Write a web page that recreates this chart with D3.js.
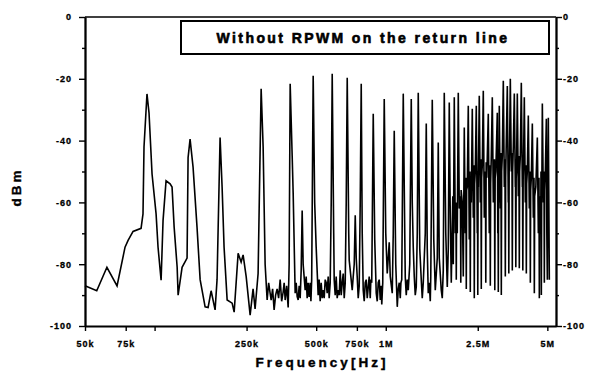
<!DOCTYPE html>
<html lang="en">
  <head>
    <meta charset="UTF-8" />
    <title>Spectrum</title>
    <script src="https://d3js.org/d3.v7.min.js"></script>
    <style>
      body {
        margin: 0;
        background: #fff;
      }
      * {
        font-family: "Liberation Sans", Arial, sans-serif;
      }
      .tick text {
        font-size: 9px;
        font-weight: bold;
        letter-spacing: 1px;
        fill: #000;
        stroke: #000;
        stroke-width: 0.3px;
      }
      .axis path,
      .axis line {
        stroke: #000;
      }
      .axis path {
        stroke-width: 1.8px;
      }
      .axis line {
        stroke-width: 1.4px;
      }
      .trace {
        fill: none;
        stroke: #000;
        stroke-width: 1.6px;
        stroke-linejoin: miter;
      }
      .title {
        font-size: 14px;
        font-weight: bold;
        letter-spacing: 2.4px;
        stroke: #000;
        stroke-width: 0.6px;
      }
      .axis-title {
        font-size: 13.5px;
        font-weight: bold;
        letter-spacing: 3px;
        stroke: #000;
        stroke-width: 0.4px;
      }
    </style>
  </head>
  <body></body>
  <script>
    // spectrum trace: [frequency kHz, level dBm]
    const lowBand = [
      [50.0, -87], [56.2, -88.6], [62.2, -81], [68.8, -87], [74.5, -74.5],
      [76.8, -72.3], [80.7, -69.4], [87.4, -68.4], [89.1, -63.7], [90.0, -42],
      [92.7, -24.9], [94.6, -31], [97.5, -50.8], [101.5, -63.7], [103.5, -74.5],
      [106.7, -85.2], [108.8, -65.8], [112.1, -53], [116.7, -54], [119.0, -55],
      [121.5, -68], [125.2, -81], [126.4, -90], [131.5, -81], [138.2, -78],
      [139.6, -45.5], [142.4, -39.5], [146.7, -48.6], [152.6, -68], [157.4, -85],
      [165.4, -93.8], [170.4, -94], [175.6, -88.6], [182.7, -94.8], [186.3, -85],
      [192.0, -39], [195.9, -55], [199.8, -74.5], [206.0, -91.6], [216.5, -92.6],
      [220.9, -95.5], [229.8, -76.5], [236.8, -79.3], [241.5, -77], [249.0, -84],
      [259.0, -96.5], [266.7, -88], [272.1, -94.5], [280.4, -83], [289.0, -23.2],
      [294.8, -42], [300.7, -80]
    ];

    const midBand = [
      [306.8, -91.6], [311.5, -86], [315.5, -89], [319.3, -91.6], [324.0, -88],
      [328.9, -94.8], [333.8, -90], [338.9, -88], [344.0, -91], [349.3, -85],
      [354.5, -92], [359.9, -89], [363.5, -86], [367.2, -91.6], [372.7, -87],
      [378.3, -94], [382.0, -80], [385.9, -21.6], [393.7, -45], [397.6, -57],
      [405.6, -89.4], [409.7, -86], [413.8, -90.5], [417.9, -91.6], [422.1, -87],
      [426.3, -91], [430.6, -82], [434.9, -62.6], [439.2, -80], [448.1, -88.4],
      [452.6, -84], [457.1, -91], [461.6, -86], [466.2, -90.6], [471.0, -86],
      [474.5, -92], [478.1, -85], [485.3, -19], [492.6, -60], [500.0, -74.5],
      [510.0, -90], [515.1, -85], [520.4, -92], [525.6, -86], [530.9, -91],
      [536.2, -88.4], [541.6, -91], [547.0, -85], [552.5, -86], [558.0, -89.4],
      [563.6, -84], [569.2, -91], [575.0, -86], [580.8, -60], [586.6, -18.4],
      [595.4, -70], [598.3, -85], [604.3, -90], [610.3, -84], [616.4, -91],
      [622.7, -88.4], [629.0, -90], [635.3, -82], [641.7, -90], [648.1, -86],
      [654.6, -83], [661.1, -91], [667.8, -86], [674.4, -60], [681.2, -19.7],
      [691.5, -70], [694.8, -78.7], [716.0, -88.4], [723.2, -84], [730.4, -80],
      [737.8, -64.2], [745.1, -78], [752.6, -84.2], [760.1, -91], [767.7, -87],
      [775.4, -60], [783.2, -21.6], [791.0, -70], [798.9, -88.4], [806.9, -92],
      [815.0, -86], [823.2, -85], [831.4, -91], [839.7, -87.4], [848.1, -84],
      [856.7, -91], [862.0, -85], [869.6, -86], [882.7, -31.3], [895.9, -72],
      [909.5, -89.4], [918.6, -92], [927.7, -86], [937.0, -85], [946.5, -91.6],
      [955.9, -87], [961.0, -93], [970.4, -86], [984.9, -26.5], [1000.0, -70],
      [1014.8, -83], [1035.2, -72.9], [1045.7, -84], [1066.7, -89.4], [1077.4, -70],
      [1088.1, -36.8], [1104.6, -80], [1121.2, -93.8], [1132.4, -88], [1143.7, -86],
      [1155.3, -91], [1163.0, -86], [1172.6, -85], [1190.3, -24.8], [1208.2, -70],
      [1214.3, -84.2], [1226.4, -90], [1238.7, -85], [1251.1, -88.4], [1269.7, -80],
      [1289.1, -26.5], [1302.0, -60], [1315.0, -74.5], [1328.2, -84], [1341.5, -90],
      [1354.9, -87.4], [1368.5, -70], [1382.1, -24.5], [1402.9, -75], [1424.1, -85],
      [1438.3, -91], [1452.7, -86], [1482.1, -70], [1496.9, -34.5], [1511.8, -75],
      [1526.9, -89.4], [1542.2, -86], [1557.8, -92], [1565.6, -84], [1589.1, -26.8],
      [1613.1, -72], [1637.4, -88.4], [1670.3, -78], [1686.9, -40.6], [1703.8, -78],
      [1738.2, -88.4], [1755.6, -91], [1773.1, -82], [1790.9, -24.5], [1817.9, -70],
      [1845.3, -87.4], [1863.7, -75], [1882.3, -27.7], [1901.5, -65]
    ];

    const highBand = [
      [1920.5, -86], [1949.6, -58], [1959.1, -80], [1978.7, -26], [1998.7, -70],
      [2011.5, -62], [2018.6, -85], [2025.7, -60], [2038.8, -70], [2059.1, -24.5],
      [2079.7, -62], [2103.8, -58], [2111.2, -86], [2118.6, -56], [2142.9, -60],
      [2164.4, -84], [2186.0, -35.8], [2208.1, -70], [2222.3, -52], [2230.1, -88],
      [2237.9, -56], [2252.4, -55], [2274.9, -28.7], [2297.5, -72], [2312.7, -50],
      [2320.8, -89], [2328.9, -55], [2344.0, -60], [2367.4, -29.7], [2391.2, -65],
      [2406.5, -48], [2415.0, -91], [2423.5, -54], [2439.4, -50], [2463.8, -28.7],
      [2488.4, -70], [2491.9, -52], [2500.7, -90], [2509.5, -50], [2513.2, -55],
      [2538.2, -25.5], [2564.0, -60], [2580.5, -46], [2589.6, -88], [2598.7, -52],
      [2615.6, -48], [2641.7, -23.9], [2668.1, -65], [2698.9, -50], [2708.4, -86],
      [2717.9, -47], [2735.5, -52], [2776.6, -31.3], [2804.2, -70], [2822.9, -48],
      [2832.8, -87], [2842.7, -54], [2861.1, -45], [2889.7, -26], [2918.6, -60],
      [2952.1, -46], [2962.5, -88.4], [2972.9, -52], [2992.3, -50], [3037.3, -31],
      [3052.3, -70], [3056.9, -50], [3067.6, -89], [3078.3, -48], [3083.0, -60],
      [3098.2, -28.7], [3129.8, -62], [3150.0, -44], [3161.1, -90], [3172.2, -50],
      [3192.7, -45], [3224.6, -20.6], [3256.9, -55], [3278.1, -46], [3289.6, -84],
      [3301.1, -52], [3322.5, -40], [3355.8, -22.3], [3389.2, -60], [3394.3, -48],
      [3406.2, -83], [3418.1, -50], [3429.9, -45], [3457.7, -20], [3492.3, -50],
      [3514.9, -44], [3527.2, -82], [3539.5, -50], [3562.5, -42], [3598.1, -24.8],
      [3634.4, -55], [3639.6, -46], [3652.4, -81], [3665.2, -52], [3678.3, -50],
      [3707.3, -24.8], [3744.4, -58], [3768.5, -45], [3781.7, -81.3], [3794.9, -50],
      [3819.9, -45], [3858.1, -21.3], [3896.7, -55], [3902.8, -48], [3916.5, -82],
      [3930.2, -52], [3944.0, -48], [3975.0, -26], [4015.1, -60], [4041.1, -48],
      [4055.3, -83], [4069.5, -54], [4095.7, -50], [4136.6, -31.9], [4177.8, -62],
      [4205.9, -50], [4220.7, -86], [4235.5, -56], [4262.9, -52], [4305.4, -34.5],
      [4348.6, -65], [4376.7, -52], [4392.1, -89.4], [4407.5, -58], [4458.4, -55],
      [4525.4, -39], [4570.6, -70], [4600.0, -52], [4616.1, -91], [4632.3, -58],
      [4686.3, -60], [4693.1, -50], [4709.6, -90], [4726.1, -56], [4733.0, -55],
      [4756.7, -28], [4804.3, -60], [4835.3, -50], [4852.3, -86], [4869.3, -56],
      [4901.2, -50], [4950.2, -32.9], [4974.5, -70], [4999.7, -85], [5024.4, -55],
      [5049.6, -32.6], [5074.7, -60], [5099.9, -85]
    ];

    const yTicks = [0, -20, -40, -60, -80, -100];
    const yMinorTicks = [-10, -30, -50, -70, -90];
    const xTickValues = [50e3, 75e3, 100e3, 250e3, 500e3, 750e3, 1e6, 2.5e6, 5e6];
    const xTickLabels = ["50k", "75k", "", "250k", "500k", "750k", "1M", "2.5M", "5M"];
    const titleText = "Without RPWM on the return line";

    const W = 592,
      H = 382;
    const plotLeft = 85,
      plotRight = 556,
      plotTop = 17,
      plotBottom = 326;

    const svg = d3.select("body").append("svg").attr("width", W).attr("height", H);

    const x = d3.scaleLog().domain([50e3, 5.45e6]).range([plotLeft, plotRight]);
    const y = d3.scaleLinear().domain([-100, 0]).range([plotBottom, plotTop]);

    // frame top line
    svg
      .append("line")
      .attr("x1", plotLeft)
      .attr("x2", plotRight)
      .attr("y1", plotTop)
      .attr("y2", plotTop)
      .attr("stroke", "#000")
      .attr("stroke-width", 1.6);

    // trace
    const points = lowBand.concat(midBand, highBand);
    const line = d3
      .line()
      .x((d) => x(d[0] * 1000))
      .y((d) => y(d[1]));
    svg.append("path").attr("class", "trace").attr("d", line(points));

    // left axis
    svg
      .append("g")
      .attr("class", "axis")
      .attr("transform", `translate(${plotLeft},0)`)
      .call(d3.axisLeft(y).tickValues(yTicks).tickSize(6).tickSizeOuter(0).tickPadding(7).tickFormat((d) => d));
    svg
      .append("g")
      .attr("class", "axis")
      .attr("transform", `translate(${plotLeft},0)`)
      .call(d3.axisLeft(y).tickValues(yMinorTicks).tickSize(3).tickSizeOuter(0).tickFormat(""));

    // right axis
    svg
      .append("g")
      .attr("class", "axis")
      .attr("transform", `translate(${plotRight},0)`)
      .call(d3.axisRight(y).tickValues(yTicks).tickSize(6).tickSizeOuter(0).tickPadding(1).tickFormat((d) => d));
    svg
      .append("g")
      .attr("class", "axis")
      .attr("transform", `translate(${plotRight},0)`)
      .call(d3.axisRight(y).tickValues(yMinorTicks).tickSize(3).tickSizeOuter(0).tickFormat(""));

    // bottom axis
    svg
      .append("g")
      .attr("class", "axis")
      .attr("transform", `translate(0,${plotBottom})`)
      .call(
        d3
          .axisBottom(x)
          .tickValues(xTickValues)
          .tickSize(5)
          .tickSizeOuter(0)
          .tickPadding(10)
          .tickFormat((d, i) => xTickLabels[i])
      );

    // title box
    svg
      .append("rect")
      .attr("x", 181)
      .attr("y", 21)
      .attr("width", 368)
      .attr("height", 33)
      .attr("fill", "#fff")
      .attr("stroke", "#000")
      .attr("stroke-width", 2);
    svg
      .append("text")
      .attr("class", "title")
      .attr("x", 363)
      .attr("y", 43)
      .attr("text-anchor", "middle")
      .text(titleText);

    // axis titles
    svg
      .append("text")
      .attr("class", "axis-title")
      .attr("x", 322)
      .attr("y", 367)
      .attr("text-anchor", "middle")
      .text("Frequency[Hz]");
    svg
      .append("text")
      .attr("class", "axis-title")
      .attr("transform", "translate(21,187) rotate(-90)")
      .attr("text-anchor", "middle")
      .text("dBm");
  </script>
</html>
